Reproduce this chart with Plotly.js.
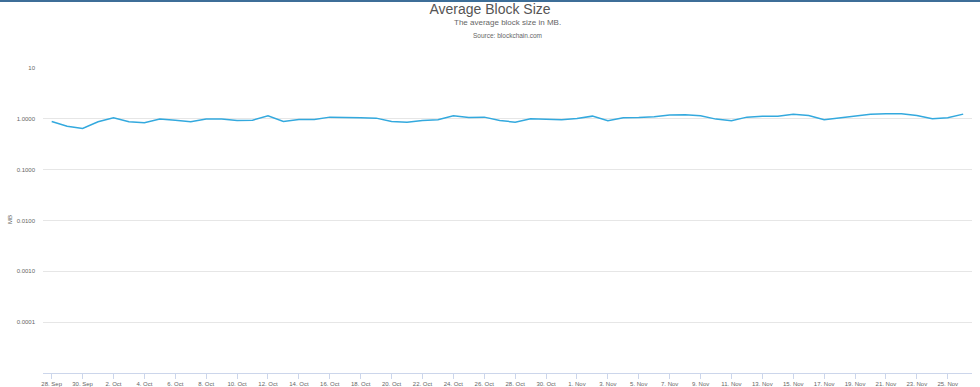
<!DOCTYPE html>
<html>
<head>
<meta charset="utf-8">
<script src="https://cdn.plot.ly/plotly-3.0.1.min.js"></script>
<style>
html,body{margin:0;padding:0;background:#fff;}
#chart{width:980px;height:387px;}
</style>
</head>
<body>
<div id="chart"></div>
<script>
// Data: dates (28 Sep - 26 Nov 2017) and average block size in MB
var startDate = "2017-09-28";
var dates = [
"2017-09-28","2017-09-29","2017-09-30","2017-10-01","2017-10-02","2017-10-03","2017-10-04","2017-10-05","2017-10-06","2017-10-07",
"2017-10-08","2017-10-09","2017-10-10","2017-10-11","2017-10-12","2017-10-13","2017-10-14","2017-10-15","2017-10-16","2017-10-17",
"2017-10-18","2017-10-19","2017-10-20","2017-10-21","2017-10-22","2017-10-23","2017-10-24","2017-10-25","2017-10-26","2017-10-27",
"2017-10-28","2017-10-29","2017-10-30","2017-10-31","2017-11-01","2017-11-02","2017-11-03","2017-11-04","2017-11-05","2017-11-06",
"2017-11-07","2017-11-08","2017-11-09","2017-11-10","2017-11-11","2017-11-12","2017-11-13","2017-11-14","2017-11-15","2017-11-16",
"2017-11-17","2017-11-18","2017-11-19","2017-11-20","2017-11-21","2017-11-22","2017-11-23","2017-11-24","2017-11-25","2017-11-26"
];
var blockSizeMB = [
0.885,0.718,0.644,0.873,1.046,0.873,0.834,0.987,0.943,0.873,
0.987,0.987,0.926,0.943,1.146,0.885,0.969,0.969,1.080,1.080,
1.046,1.032,0.885,0.861,0.926,0.956,1.146,1.061,1.080,0.926,
0.861,1.000,0.969,0.956,1.014,1.130,0.913,1.046,1.061,1.095,
1.183,1.199,1.146,0.987,0.913,1.080,1.130,1.130,1.237,1.161,
0.956,1.046,1.146,1.237,1.254,1.254,1.161,1.000,1.046,1.237
];
var yTickVals = [10, 1, 0.1, 0.01, 0.001, 0.0001];
var yTickText = ["10", "1.0000", "0.1000", "0.0100", "0.0010", "0.0001"];
var titleText = "Average Block Size";
var subtitleText = "The average block size in MB.";
var sourceText = "Source: blockchain.com";
var yTitleText = "MB";

var font = "Liberation Sans, Arial, sans-serif";
var dayMs = 86400000;
var t0 = new Date(startDate + "T00:00:00Z").getTime();
function iso(ms){ return new Date(ms).toISOString().replace("T"," ").replace("Z",""); }

var trace = {
  x: dates,
  y: blockSizeMB,
  type: "scatter",
  mode: "lines",
  line: {color: "#33a9de", width: 1.5},
  hoverinfo: "x+y",
  showlegend: false
};

var layout = {
  width: 980,
  height: 387,
  margin: {l: 43, r: 8, t: 68, b: 14, pad: 0},
  paper_bgcolor: "#ffffff",
  plot_bgcolor: "#ffffff",
  font: {family: font, color: "#666666", size: 6},
  title: {
    text: titleText,
    font: {family: font, size: 14, color: "#555555"},
    x: 0.5, xanchor: "center",
    yref: "container", y: 1 - 9/387, yanchor: "middle"
  },
  xaxis: {
    type: "date",
    range: [iso(t0 - 0.563*dayMs), iso(t0 + 59.57*dayMs)],
    tick0: startDate,
    dtick: 2*dayMs,
    tickformat: "%-d. %b",
    ticks: "outside",
    ticklen: 5,
    tickwidth: 1,
    tickcolor: "#ccd6eb",
    showline: true,
    linecolor: "#ccd6eb",
    linewidth: 1,
    showgrid: false,
    zeroline: false,
    tickfont: {family: font, size: 6, color: "#666666"},
    fixedrange: true
  },
  yaxis: {
    type: "log",
    range: [-5, 1],
    tickvals: yTickVals,
    ticktext: yTickText,
    ticks: "",
    showline: false,
    showgrid: true,
    gridcolor: "#e6e6e6",
    gridwidth: 1,
    zeroline: false,
    tickfont: {family: font, size: 6, color: "#666666"},
    ticklabelstandoff: 7,
    fixedrange: true
  },
  annotations: [
    {text: subtitleText, xref: "paper", yref: "paper", x: 0.5, y: (373-22)/305,
     xanchor: "center", yanchor: "middle", showarrow: false,
     font: {family: font, size: 8, color: "#666666"}},
    {text: sourceText, xref: "paper", yref: "paper", x: 0.5, y: (373-35)/305,
     xanchor: "center", yanchor: "middle", showarrow: false,
     font: {family: font, size: 6.5, color: "#666666"}},
    {text: yTitleText, xref: "paper", yref: "paper", x: (10-43)/929, y: (373-220)/305,
     xanchor: "center", yanchor: "middle", showarrow: false, textangle: -90,
     font: {family: font, size: 6, color: "#666666"}}
  ],
  shapes: [
    {type: "rect", xref: "paper", yref: "paper",
     x0: -43/929, x1: (980-43)/929, y0: (373-2)/305, y1: 373/305,
     fillcolor: "#3d6e98", line: {width: 0}, layer: "above"}
  ]
};

Plotly.newPlot("chart", [trace], layout, {displayModeBar: false, staticPlot: true});
</script>
</body>
</html>
